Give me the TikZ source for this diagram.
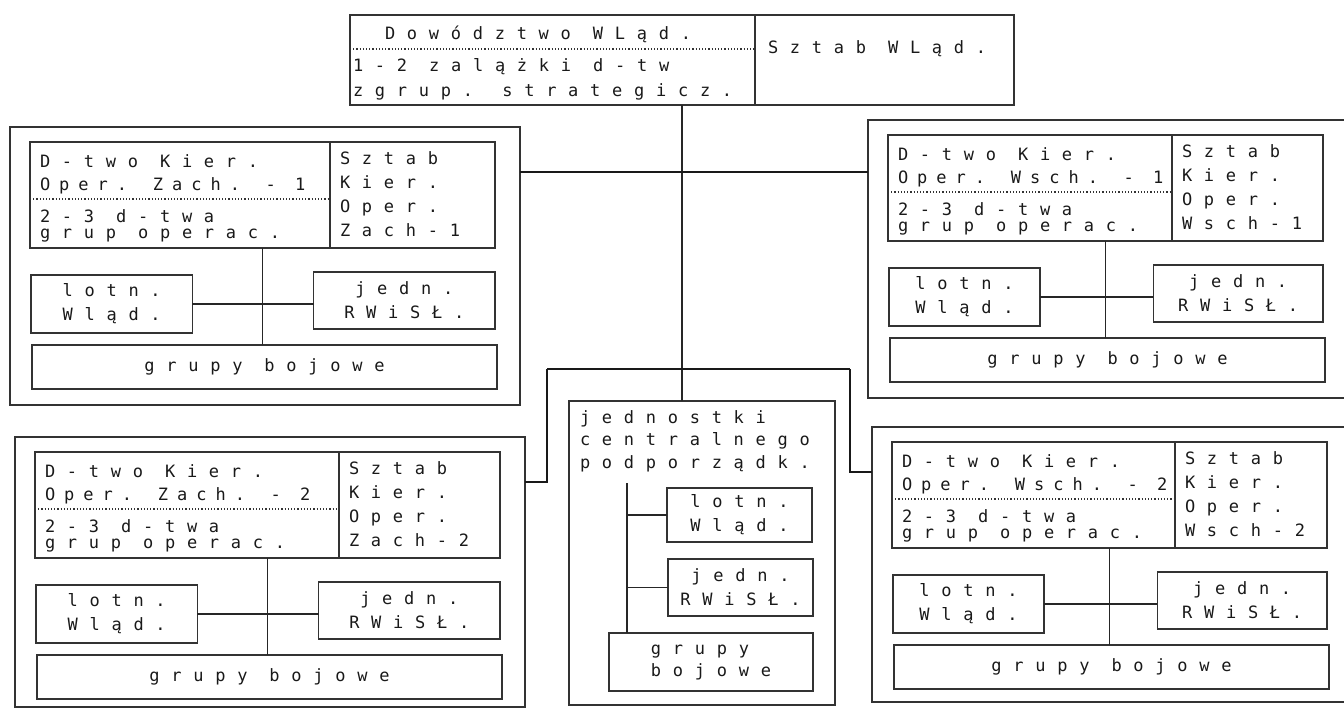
\documentclass[tikz,border=0pt]{standalone}
\usepackage{fontspec}
\newfontfamily\dotfont[LetterSpace=69]{DejaVu Sans Mono}
\newfontfamily\dotfontn[LetterSpace=53]{DejaVu Sans Mono}
\usetikzlibrary{calc}

\begin{document}
\begin{tikzpicture}[
    x=1pt, y=-1pt,
    font=\dotfont\fontsize{17}{24}\selectfont,
    every node/.style={inner sep=0pt, outer sep=0pt, text=black!90},
    boxline/.style={draw=black!80, line width=1.2pt},
    unitbox/.style={boxline, rectangle, align=center},
    txt/.style={anchor=base west, align=left},
    dotline/.style={dash pattern=on 1.2pt off 2pt},
    link/.style={draw=black!85, line width=1.2pt},
    trunk/.style={draw=black!90, line width=2.6pt}
  ]
  \useasboundingbox (0,0) rectangle (1344,710);
  \clip (0,0) rectangle (1344,710);

  % Supreme command
  \node[unitbox, anchor=north west, minimum width=664pt, minimum height=90pt] (top) at (350,15) {};
  \draw[boxline] ($(top.north west)+(405,0)$) -- ($(top.south west)+(405,0)$);
  \draw[boxline, dotline] ($(top.north west)+(0,34)$) -- ($(top.north west)+(405,34)$);
  \node[txt] (dow) at (385,39) {Dowództwo WLąd.};
  \node[txt] (zal) at (353,96) {1-2 zalążki d-tw\\[1pt]zgrup. strategicz.};
  \node[txt] (szt) at (768,53) {Sztab WLąd.};

  % Operational directions
  \foreach \g/\gx/\gy/\w/\dv/\ob/\dir/\n in {tl/30/142/465/300/263/Zach/1, bl/35/452/465/304/255/Zach/2, tr/888/135/435/284/263/Wsch/1, br/892/442/435/283/260/Wsch/2}{
    \begin{scope}[shift={(\gx,\gy)}]
      \node[boxline, anchor=north west, minimum width={(\w+45)*1pt}, minimum height={(\ob+15)*1pt}] (out-\g) at (-20,-15) {};
      \node[boxline, anchor=north west, minimum width={\w*1pt}, minimum height=106pt] (hdr-\g) at (0,0) {};
      \draw[boxline] ($(hdr-\g.north west)+(\dv,0)$) -- ($(hdr-\g.south west)+(\dv,0)$);
      \draw[boxline, dotline] ($(hdr-\g.north west)+(0,57)$) -- ($(hdr-\g.north west)+(\dv,57)$);
      \node[txt] (cmd-\g) at (10,48) {D-two Kier.\\[-1pt]\dotfontn Oper. \dir. - \n};
      \node[txt] (dtw-\g) at (10,96) {2-3 d-twa\\[-8pt]grup operac.};
      \node[txt] (stb-\g) at (\dv+10,94) {Sztab\\Kier.\\Oper.\\\dir-\n};
      \node[unitbox, anchor=north west, minimum width={0.347*\w*1pt}, minimum height=58pt] (lotn-\g) at (1,133) {lotn.\\Wląd.};
      \node[unitbox, anchor=north west, minimum width={0.39*\w*1pt}, minimum height=57pt] (jedn-\g) at ({0.61*\w},130) {jedn.\\RWiSŁ.};
      \node[unitbox, anchor=north west, minimum width={\w*1pt}, minimum height=44pt] (bg-\g) at (2,203) {grupy bojowe};
      \draw[link] (hdr-\g.south) -- (hdr-\g.south |- bg-\g.north);
      \draw[link] (lotn-\g.east) -- (lotn-\g.east -| jedn-\g.west);
    \end{scope}
  }

  % Central units
  \node[boxline, anchor=north west, minimum width=266pt, minimum height=304pt] (cent) at (569,401) {};
  \node[txt] (cent-t) at (580,468) {jednostki\\[-1.5pt]centralnego\\[-1.5pt]podporządk.};
  \node[unitbox, anchor=north west, minimum width=145pt, minimum height=54pt] (lotn-c) at (667,488) {lotn.\\Wląd.};
  \node[unitbox, anchor=north west, minimum width=145pt, minimum height=57pt] (jedn-c) at (668,559) {jedn.\\RWiSŁ.};
  \node[unitbox, align=left, anchor=north west, minimum width=204pt, minimum height=58pt] (bg-c) at (609,633) {grupy\\[-2pt]bojowe};
  \coordinate (cv) at (627,483);
  \draw[link] (cv) -- (cv |- bg-c.north);
  \draw[link] (lotn-c.west -| cv) -- (lotn-c.west);
  \draw[link] (jedn-c.west -| cv) -- (jedn-c.west);

  % Connections
  \draw[link] (top.south) -- (top.south |- cent.north);
  \coordinate (jt) at ($(top.south)+(0,67)$);
  \draw[trunk] (jt -| out-tl.east) -- (jt -| out-tr.west);
  \coordinate (kl) at (547,369);
  \coordinate (kr) at (850,369);
  \draw[trunk] (kl) -- (kr);
  \draw[trunk] (kl) |- ($(out-bl.north east)+(0,45)$);
  \draw[trunk] (kr) |- ($(out-br.north west)+(0,45)$);
\end{tikzpicture}
\end{document}
